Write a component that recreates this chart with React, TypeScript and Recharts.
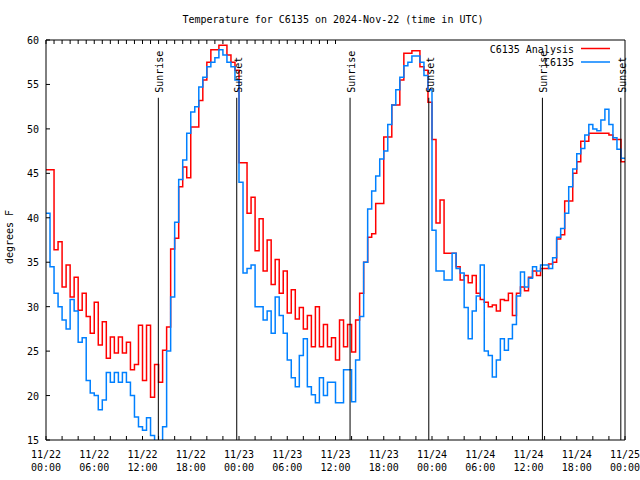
import React from "react";
import { LineChart, Line, XAxis, YAxis, ReferenceLine } from "recharts";

const FONT = "'DejaVu Sans Mono', monospace";

// half-hourly readings, hours since 2024-11-22 00:00 UTC
const HOURS = Array.from({ length: 145 }, (_, i) => i / 2);

const ANALYSIS = [
  45.4, 45.4, 36.4, 37.3, 32.2, 34.7, 31.1, 33.3, 29.6, 31.5,
  28.9, 27.0, 30.5, 25.7, 28.3, 24.2, 26.6, 24.8, 26.6, 24.8,
  26.0, 22.9, 23.5, 27.9, 21.7, 27.9, 19.8, 23.5, 21.5, 25.1,
  27.7, 36.5, 37.7, 43.5, 45.7, 44.5, 50.2, 50.2, 53.2, 55.5,
  57.5, 58.9, 58.9, 59.4, 59.4, 58.3, 57.5, 56.6,
  46.2, 46.2, 40.5, 42.3, 36.3, 39.9, 34.0, 37.5, 32.5, 35.3,
  31.5, 34.0, 29.3, 31.9, 28.6, 29.9, 27.5, 29.0, 25.5, 30.0,
  25.5, 28.0, 25.5, 26.5, 24.0, 28.5, 25.5, 28.0, 24.9, 28.5,
  31.5, 35.0, 37.8, 38.2, 41.6, 41.6, 49.1, 49.1, 52.7, 52.7,
  55.5, 58.5, 58.5, 58.8, 58.8, 57.0, 56.6, 53.0,
  48.8, 39.4, 42.0, 36.0, 36.0, 36.0, 34.5, 33.0, 33.5, 32.7,
  33.5, 31.5, 30.8, 30.5, 30.0, 30.2, 29.5, 30.8, 30.7, 31.5,
  29.0, 31.5, 32.2, 31.8, 33.3, 34.0, 33.5, 34.3, 34.3, 34.8,
  35.0, 37.6, 38.1, 41.9, 41.9, 45.0, 46.3, 48.6, 48.6, 49.5,
  49.5, 49.5, 49.5, 49.5, 49.3, 48.8, 48.8, 46.3, 46.3,
];

const STATION = [
  40.5, 34.5, 31.5, 30.0, 28.5, 27.5, 30.8, 29.5, 26.0, 26.5,
  21.7, 20.3, 20.0, 18.4, 19.5, 22.6, 21.5, 22.6, 21.5, 22.6,
  21.5, 20.0, 17.6, 16.5, 16.1, 17.5, 15.5, 14.0, 14.0, 16.5,
  25.0, 31.1, 39.5, 44.3, 46.5, 49.5, 51.9, 52.5, 54.7, 55.8,
  57.0, 57.5, 58.0, 58.9, 58.3, 57.5, 57.0, 55.5,
  44.0, 33.8, 34.3, 34.7, 30.0, 30.0, 28.5, 29.5, 27.0, 31.1,
  29.0, 27.0, 24.0, 22.0, 21.0, 24.5, 26.4, 21.0, 20.1, 19.2,
  22.0, 20.0, 21.5, 21.5, 19.2, 19.2, 22.9, 22.9, 19.3, 24.0,
  28.9, 35.0, 41.0, 43.0, 44.7, 46.6, 47.5, 50.5, 52.7, 54.4,
  55.8, 57.1, 57.5, 58.2, 58.2, 57.5, 56.0, 54.4,
  38.6, 34.0, 34.0, 33.0, 33.0, 36.0, 34.3, 33.8, 29.9, 26.4,
  29.5, 31.2, 34.7, 25.0, 24.5, 22.1, 24.0, 26.4, 25.1, 26.4,
  28.0, 31.2, 33.9, 32.2, 33.2, 34.5, 34.0, 34.7, 34.7, 34.3,
  35.5, 37.8, 38.8, 40.5, 43.5, 45.5, 47.2, 47.8, 49.3, 50.5,
  50.0, 49.8, 51.0, 52.2, 50.5, 49.0, 47.7, 46.7, 46.7,
];

const SUN_HOURS = [13.97, 23.72, 37.81, 47.6, 61.73, 71.48];
const SUN_NAMES = ["Sunrise", "Sunset", "Sunrise", "Sunset", "Sunrise", "Sunset"];

const X_TICKS = [0, 2, 4, 6, 8, 10, 12, 14, 16, 18, 20, 22, 24, 26, 28, 30, 32, 34, 36,
  38, 40, 42, 44, 46, 48, 50, 52, 54, 56, 58, 60, 62, 64, 66, 68, 70, 72];
const Y_TICKS = [15, 20, 25, 30, 35, 40, 45, 50, 55, 60];

const RED = "#ff0000";
const BLUE = "#0080ff";

const data = HOURS.map((h, i) => ({ h, analysis: ANALYSIS[i], station: STATION[i] }));

const pad = (n: number) => (n < 10 ? "0" + n : "" + n);

const BottomTick = (props: any) => {
  const { x, y, payload } = props;
  const v = payload.value;
  return (
    <g>
      <line x1={x} y1={y} x2={x} y2={y - 4} stroke="#000" />
      {v % 6 === 0 && (
        <text x={x} y={y + 18} textAnchor="middle" fontFamily={FONT} fontSize={10} fill="#000">
          <tspan x={x}>{`11/${22 + Math.floor(v / 24)}`}</tspan>
          <tspan x={x} dy={13}>{`${pad(v % 24)}:00`}</tspan>
        </text>
      )}
    </g>
  );
};

const TopTick = (props: any) => (
  <line x1={props.x} y1={props.y} x2={props.x} y2={props.y + 4} stroke="#000" />
);

const LeftTick = (props: any) => {
  const { x, y, payload } = props;
  return (
    <g>
      <line x1={x} y1={y} x2={x + 4} y2={y} stroke="#000" />
      <text x={x - 7} y={y + 4} textAnchor="end" fontFamily={FONT} fontSize={10} fill="#000">
        {payload.value}
      </text>
    </g>
  );
};

const RightTick = (props: any) => (
  <line x1={props.x} y1={props.y} x2={props.x - 4} y2={props.y} stroke="#000" />
);

const SunLabel = (props: any) => {
  const { viewBox, text } = props;
  if (!viewBox) return null;
  const x = viewBox.x + 5;
  const y = viewBox.y - 5;
  return (
    <text transform={`translate(${x},${y}) rotate(-90)`} fontFamily={FONT} fontSize={10} fill="#000">
      {text}
    </text>
  );
};

export default function App() {
  return (
    <div style={{ position: "absolute", left: 0, top: 0, width: 640, height: 480, background: "#fff" }}>
      <LineChart width={640} height={480} data={data} margin={{ top: 20, right: 0, bottom: 0, left: 0 }}>
        <XAxis
          dataKey="h"
          type="number"
          domain={[0, 72]}
          ticks={X_TICKS}
          interval={0}
          height={40}
          tickSize={0}
          tickMargin={0}
          tickLine={false}
          tick={<BottomTick />}
          stroke="#000"
        />
        <XAxis
          xAxisId="top"
          orientation="top"
          type="number"
          domain={[0, 72]}
          ticks={X_TICKS}
          interval={0}
          height={20}
          tickSize={0}
          tickMargin={0}
          tickLine={false}
          tick={<TopTick />}
          stroke="#000"
        />
        <YAxis
          domain={[15, 60]}
          ticks={Y_TICKS}
          interval={0}
          allowDataOverflow
          width={46}
          tickSize={0}
          tickMargin={0}
          tickLine={false}
          tick={<LeftTick />}
          stroke="#000"
        />
        <YAxis
          yAxisId="right"
          orientation="right"
          domain={[15, 60]}
          ticks={Y_TICKS}
          interval={0}
          width={15}
          tickSize={0}
          tickMargin={0}
          tickLine={false}
          tick={<RightTick />}
          stroke="#000"
        />
        <Line type="stepAfter" dataKey="analysis" stroke={RED} strokeWidth={1.5} dot={false} isAnimationActive={false} />
        <Line type="stepAfter" dataKey="station" stroke={BLUE} strokeWidth={1.5} dot={false} isAnimationActive={false} />
        {SUN_HOURS.map((h, i) => (
          <ReferenceLine
            key={i}
            segment={[{ x: h, y: 15 }, { x: h, y: 53.5 }]}
            stroke="#000"
            strokeWidth={1}
            ifOverflow="visible"
            label={<SunLabel text={SUN_NAMES[i]} />}
          />
        ))}
      </LineChart>
      <svg width={640} height={480} style={{ position: "absolute", left: 0, top: 0, pointerEvents: "none" }}>
        <g fontFamily={FONT} fontSize={10} fill="#000">
          <text x={333} y={23} textAnchor="middle">Temperature for C6135 on 2024-Nov-22 (time in UTC)</text>
          <text transform="translate(13,237) rotate(-90)" textAnchor="middle">degrees F</text>
          <text x={574} y={53} textAnchor="end">C6135 Analysis</text>
          <text x={574} y={66} textAnchor="end">C6135</text>
        </g>
        <line x1={581} x2={610} y1={48.5} y2={48.5} stroke={RED} strokeWidth={1.5} />
        <line x1={581} x2={610} y1={62} y2={62} stroke={BLUE} strokeWidth={1.5} />
      </svg>
    </div>
  );
}
